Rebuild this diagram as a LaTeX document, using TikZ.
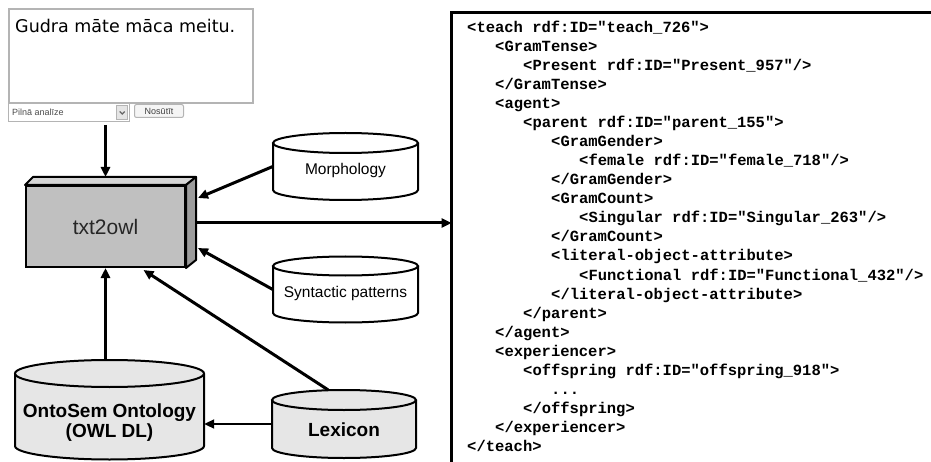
\documentclass[tikz,border=0pt]{standalone}
\usepackage{fontspec}
\setmainfont{Liberation Sans}
\newfontfamily\formfont{DejaVu Sans}
\newfontfamily\xmlfont{Liberation Mono}
\usetikzlibrary{arrows.meta,calc}
\definecolor{boxgray}{HTML}{C0C0C0}
\definecolor{topgray}{HTML}{D6D6D6}
\definecolor{sidegray}{HTML}{9C9C9C}
\definecolor{dbgray}{HTML}{E6E6E6}
\definecolor{formgray}{HTML}{B4B4B4}
% name, x, top y, bottom y, half width, y radius, fill
\newcommand{\dbcyl}[7]{%
  \path[fill=#7] (#2-#5,#3) -- (#2-#5,#4) arc[start angle=180,end angle=360,x radius=#5pt,y radius=#6pt]
    -- (#2+#5,#3) arc[start angle=0,end angle=180,x radius=#5pt,y radius=#6pt] -- cycle;
  \draw[line width=2pt] (#2-#5,#3) -- (#2-#5,#4) arc[start angle=180,end angle=360,x radius=#5pt,y radius=#6pt] -- (#2+#5,#3);
  \draw[line width=2pt] (#2,#3) ellipse[x radius=#5pt,y radius=#6pt];
  \node[minimum width=2*#5pt, minimum height={(#4-#3+2*#6)*1pt}, inner sep=0pt] (#1) at (#2,{(#3+#4)/2}) {};}

\begin{document}
\begin{tikzpicture}[x=1pt,y=-1pt]
    \tikzset{arr/.style={line width=3pt,-{Triangle[length=10pt,width=9pt]}},
             dblbl/.style={font=\fontsize{15.5}{18}\selectfont},
             dbbold/.style={font=\bfseries\fontsize{19}{20}\selectfont,align=center},
             xmlline/.style={anchor=base west,inner sep=0pt,font=\xmlfont\bfseries\fontsize{15.5}{19}\selectfont}}
    \useasboundingbox (0,0) rectangle (931,462);

    \node[draw=formgray, line width=2pt, anchor=north west, minimum width=244pt, minimum height=94pt, inner sep=0pt] (form) at (8,8) {};
    \node[anchor=base west, inner sep=0pt, font=\formfont\fontsize{17.5}{20}\selectfont] (gudra) at (15,33) {Gudra māte māca meitu.};
    \node[draw=formgray, line width=1pt, anchor=north west, minimum width=121pt, minimum height=18pt, inner sep=0pt] (sel) at (8,103) {};
    \node[anchor=west, inner sep=0pt, font=\fontsize{9}{10}\selectfont, text=black!70] (selt) at ([shift={(4,0)}]sel.west) {Pilnā analīze};
    \node[fill=black!10, draw=formgray, line width=.6pt, minimum width=11pt, minimum height=14pt, inner sep=0pt, anchor=east] (selb) at ([shift={(-2,0)}]sel.east) {};
    \draw[black!60, line width=1.2pt] ([shift={(-2.5,-1)}]selb.center) -- ([shift={(0,1.5)}]selb.center) -- ([shift={(2.5,-1)}]selb.center);
    \node[draw=formgray, line width=1pt, rounded corners=2pt, fill=black!4, anchor=north west, minimum width=49pt, minimum height=13pt, inner sep=0pt, font=\fontsize{9}{10}\selectfont, text=black!75] (btn) at (134,104) {Nosūtīt};

    \node[fill=boxgray, draw, line width=2pt, minimum width=159pt, minimum height=81pt, font=\fontsize{21}{24}\selectfont, text=black!85] (txt) at (105.5,226.5) {txt2owl};
    \filldraw[fill=topgray, line width=2pt, line join=round] (txt.north west) -- ++(8,-8) -- ([shift={(10,-8)}]txt.north east) -- (txt.north east) -- cycle;
    \filldraw[fill=sidegray, line width=2pt, line join=round] (txt.north east) -- ++(10,-8) -- ([shift={(10,-8)}]txt.south east) -- (txt.south east) -- cycle;

    \dbcyl{morph}{345.5}{143}{190}{72.5}{10}{white}
    \dbcyl{syn}{345.5}{266}{313}{72.5}{9.5}{white}
    \dbcyl{lex}{344}{400}{448}{72}{10}{dbgray}
    \dbcyl{onto}{109.5}{373.5}{446}{94.5}{13.5}{dbgray}
    \node[dblbl] at ([shift={(0,3.5)}]morph.center) {Morphology};
    \node[dblbl] at ([shift={(0,3.5)}]syn.center) {Syntactic patterns};
    \node[dbbold] at ([shift={(0,6)}]lex.center) {Lexicon};
    \node[dbbold] at ([shift={(0,13)}]onto.center) {OntoSem Ontology\\(OWL DL)};

    \node[draw, line width=3.3pt, outer sep=0pt, anchor=north west, minimum width=520pt, minimum height=480pt] (xml) at (451.5,12.5) {};
    \foreach \lvl/\code [count=\i from 0] in {
        0/{<teach rdf:ID="teach\_726">},
        1/{<GramTense>},
        2/{<Present rdf:ID="Present\_957"/>},
        1/{</GramTense>},
        1/{<agent>},
        2/{<parent rdf:ID="parent\_155">},
        3/{<GramGender>},
        4/{<female rdf:ID="female\_718"/>},
        3/{</GramGender>},
        3/{<GramCount>},
        4/{<Singular rdf:ID="Singular\_263"/>},
        3/{</GramCount>},
        3/{<literal-object-attribute>},
        4/{<Functional rdf:ID="Functional\_432"/>},
        3/{</literal-object-attribute>},
        2/{</parent>},
        1/{</agent>},
        1/{<experiencer>},
        2/{<offspring rdf:ID="offspring\_918">},
        3/{...},
        2/{</offspring>},
        1/{</experiencer>},
        0/{</teach>}}
        \node[xmlline] (x\i) at (467+28*\lvl,33+19*\i) {\code};

    \draw[arr, shorten <=3pt] (sel.south -| txt.north) -- ([shift={(0,-8)}]txt.north);
    \draw[arr] (morph.west) -- ([shift={(12,-28.5)}]txt.east);
    \draw[arr] (syn.west) -- ([shift={(12,21.5)}]txt.east);
    \draw[arr] ([shift={(-16,0)}]lex.north) -- ([shift={(38,2)}]txt.south);
    \draw[arr, line width=3.5pt] (onto.north -| txt.south) -- (txt.south);
    \draw[arr, line width=2pt] (lex.west) -- (lex.west -| onto.east);
    \draw[arr] ([shift={(10,-3.5)}]txt.east) coordinate (out) -- (out -| xml.west);
\end{tikzpicture}
\end{document}
